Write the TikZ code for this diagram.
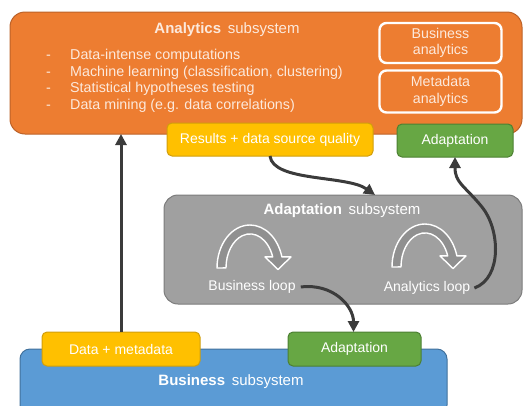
\documentclass[tikz,border=0pt]{standalone}
\usepackage{fontspec}
\setmainfont{Liberation Sans}
\usetikzlibrary{arrows.meta}

\definecolor{orangefill}{HTML}{ED7D31}
\definecolor{orangeline}{HTML}{BC6229}
\definecolor{orangetext}{HTML}{FCE9DC}
\definecolor{yellowfill}{HTML}{FFC000}
\definecolor{yellowline}{HTML}{D19E0C}
\definecolor{greenfill}{HTML}{67A744}
\definecolor{greenline}{HTML}{4C8032}
\definecolor{bluefill}{HTML}{5B9BD5}
\definecolor{blueline}{HTML}{41719C}
\definecolor{grayfill}{HTML}{A0A0A0}
\definecolor{grayline}{HTML}{7C7C7C}
\definecolor{loopfill}{HTML}{909090}
\definecolor{arrowdark}{HTML}{3B3B3B}

\begin{document}
\begin{tikzpicture}[x=1pt,y=-1pt,
  font=\fontsize{14}{17}\selectfont,
  panel/.style={draw, line width=1pt, inner sep=0pt, outer sep=0pt},
  tag/.style={draw, line width=1pt, rounded corners=5pt, inner sep=0pt,
    outer sep=0pt, text=white, align=center},
  inner/.style={draw=white, line width=2.4pt, rounded corners=7pt,
    fill=orangefill, inner sep=0pt, outer sep=0pt, text=orangetext,
    align=center, font=\fontsize{14.2}{16.5}\selectfont},
  title/.style={font=\fontsize{15}{17}\selectfont, inner sep=1pt},
  bullet/.style={anchor=base west, text=orangetext, inner sep=0pt,
    font=\fontsize{14.3}{17}\selectfont},
  looplabel/.style={text=white, inner sep=1pt},
  flow/.style={draw=arrowdark, line width=3pt,
    -{Triangle[length=11pt,width=11pt]}},
  loopicon/.style={draw=white, line width=1.4pt, fill=loopfill, line join=round}
]
\useasboundingbox (0,0) rectangle (525,405);
\clip (0,0) rectangle (525,405);

% subsystem panels
\node[panel, draw=orangeline, fill=orangefill, rounded corners=15pt,
  minimum width=512pt, minimum height=122pt] (ana) at (266,73) {};
\node[panel, draw=grayline, fill=grayfill, rounded corners=14pt,
  minimum width=358pt, minimum height=109pt] (ada) at (343,249.5) {};
\node[panel, draw=blueline, fill=bluefill, rounded corners=10pt,
  minimum width=427pt, minimum height=66pt] (bus) at (233.5,382) {};

% panel titles
\node[title, text=orangetext] (anatitle) at (227,30)
  {\textbf{Analytics}\hspace{0.45em}subsystem};
\node[title, text=white] (adatitle) at (342,211)
  {\textbf{Adaptation}\hspace{0.45em}subsystem};
\node[title, text=white] (bustitle) at (231,382)
  {\textbf{Business}\hspace{0.45em}subsystem};

% analytics tasks
\node[bullet] (d1) at (46,59.5) {-};
\node[bullet] (t1) at (70,59.5) {Data-intense computations};
\node[bullet] (d2) at (46,76) {-};
\node[bullet] (t2) at (70,76) {Machine learning (classification, clustering)};
\node[bullet] (d3) at (46,92.5) {-};
\node[bullet] (t3) at (70,92.5) {Statistical hypotheses testing};
\node[bullet] (d4) at (46,109) {-};
\node[bullet] (t4) at (70,109) {Data mining (e.g. data correlations)};

% analytics kinds
\node[inner, minimum width=122pt, minimum height=40pt] (banal) at (440.5,43)
  {Business\\analytics};
\node[inner, minimum width=122pt, minimum height=42pt] (manal) at (440.5,91.5)
  {Metadata\\analytics};

% interface tags
\node[tag, draw=yellowline, fill=yellowfill, minimum width=206pt,
  minimum height=33pt] (res) at (270,139.5) {Results + data source quality};
\node[tag, draw=greenline, fill=greenfill, minimum width=116pt,
  minimum height=33pt] (adtop) at (455,140.5) {Adaptation};
\node[tag, draw=yellowline, fill=yellowfill, minimum width=158pt,
  minimum height=34pt] (dm) at (121,349) {Data + metadata};
\node[tag, draw=greenline, fill=greenfill, minimum width=133pt,
  minimum height=34pt] (adbot) at (354.5,349) {Adaptation};

% loop icons: a tall arch ending in a downward arrowhead
% (drawn with y pointing up inside each scope)
\foreach \cx/\cy in {250/268, 425/267}{
  \begin{scope}[shift={(\cx,\cy)}, yscale=-1]
    \path[loopicon] (-33,0)
      arc[start angle=180, end angle=15, x radius=33, y radius=43]
      -- (41,11.1) -- (28,-1.5) -- (15,11.1) -- (22.7,11.1)
      arc[start angle=18.9, end angle=180, x radius=24, y radius=34]
      -- cycle;
  \end{scope}
}

% loop labels
\node[looplabel] (bloop) at (252,287) {Business loop};
\node[looplabel] (aloop) at (427,288) {Analytics loop};

% connectors
\draw[flow] (dm.north) -- (dm.north |- ana.south);
\draw[flow] (res.south)
  .. controls +(3,26) and +(-28,-20) .. ([xshift=32pt]ada.north);
\draw[flow] ([xshift=4pt]bloop.east)
  .. controls +(32,-4) and +(0,-26) .. ([xshift=-1pt]adbot.north);
\draw[flow] ([xshift=3pt]aloop.east)
  .. controls +(28,-10) and +(18,22) .. (482,207)
  .. controls +(-18,-22) and +(0,26) .. (adtop.south);
\end{tikzpicture}
\end{document}
